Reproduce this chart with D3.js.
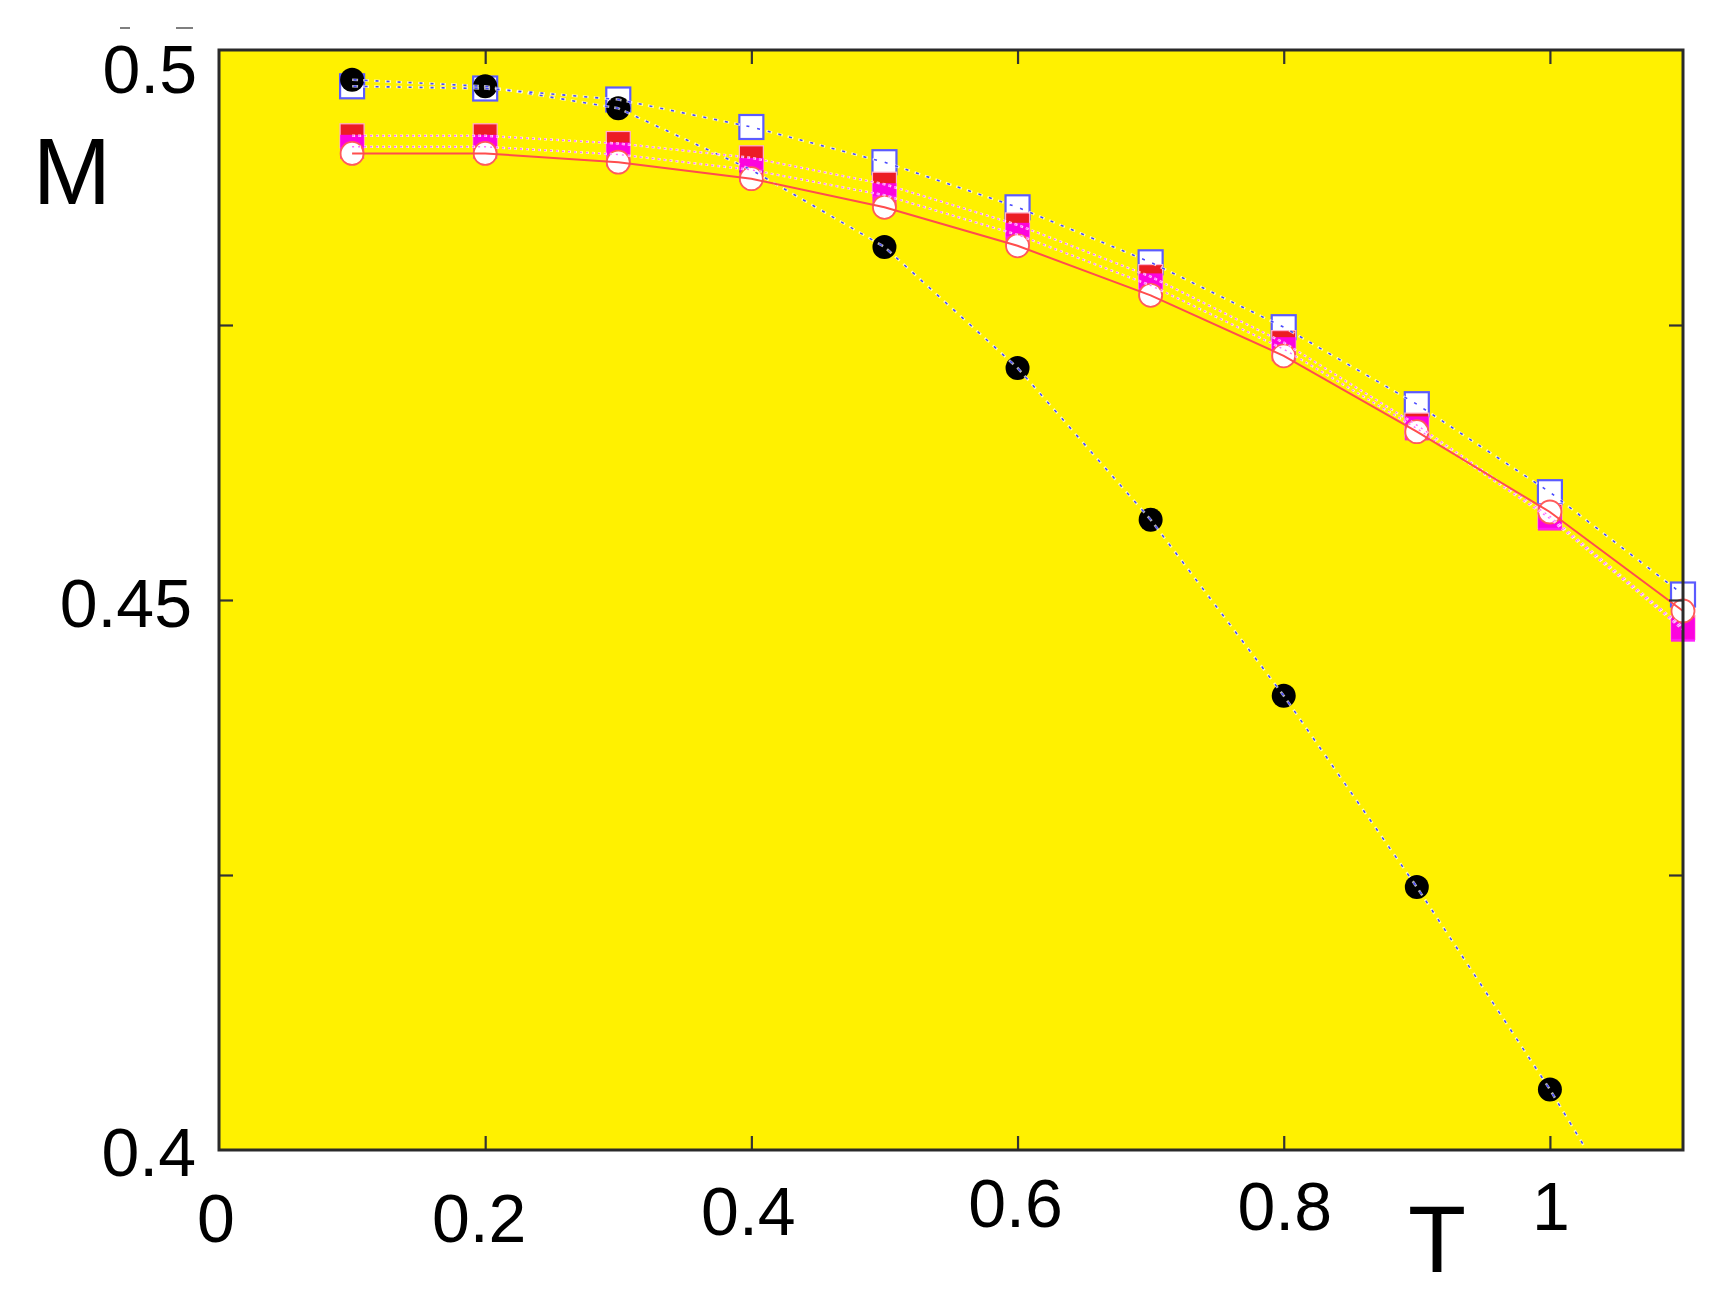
<!DOCTYPE html>
<html>
<head>
<meta charset="utf-8">
<script src="https://cdn.jsdelivr.net/npm/d3@7"></script>
<style>
  html, body { margin: 0; padding: 0; background: #ffffff; }
  svg { display: block; }
  text { font-family: "Liberation Sans", Arial, Helvetica, sans-serif; fill: #000; }
</style>
</head>
<body>
<svg id="chart" width="1735" height="1299"></svg>
<script>
// ---------------- data ----------------
const temps = [0.1, 0.2, 0.3, 0.4, 0.5, 0.6, 0.7, 0.8, 0.9, 1.0, 1.1];
const blackCircles   = [0.4973, 0.4967, 0.4947, 0.4891, 0.4821, 0.4711, 0.4573, 0.4413, 0.4239, 0.4055, 0.3855];
const openSquares    = [0.4967, 0.4965, 0.4955, 0.4930, 0.4898, 0.4857, 0.4807, 0.4748, 0.4678, 0.4598, 0.4505];
const redSquares     = [0.4922, 0.4922, 0.4915, 0.4902, 0.4878, 0.4841, 0.4794, 0.4734, 0.4659, 0.4576, 0.4475];
const magentaSquares = [0.4912, 0.4912, 0.4905, 0.4891, 0.4868, 0.4832, 0.4786, 0.4728, 0.4656, 0.4574, 0.4473];
const openCircles    = [0.4906, 0.4906, 0.4898, 0.4883, 0.4857, 0.4822, 0.4777, 0.4722, 0.4653, 0.4580, 0.4490];

const xTickValues = [0, 0.2, 0.4, 0.6, 0.8, 1];
const xTickLabels = ["0", "0.2", "0.4", "0.6", "0.8", "1"];
const yTickValues = [0.4, 0.425, 0.45, 0.475, 0.5];
const yLabelValues = [0.4, 0.45, 0.5];
const yTickLabels = ["0.4", "0.45", "0.5"];
const xTitle = "T";
const yTitle = "M";

// ---------------- layout ----------------
const svg = d3.select("#chart");
const L = 219, R = 1683, TOP = 50, BOT = 1150;
const x = d3.scaleLinear().domain([0, 1.1]).range([L, R]);
const y = d3.scaleLinear().domain([0.4, 0.5]).range([BOT, TOP]);

// background
svg.append("rect").attr("x", L).attr("y", TOP).attr("width", R - L).attr("height", BOT - TOP)
  .attr("fill", "#fff100");

// clip (vertical only; markers at T=1.1 spill past the right border)
svg.append("defs").append("clipPath").attr("id", "clip")
  .append("rect").attr("x", L).attr("y", TOP).attr("width", 1735 - L).attr("height", BOT - TOP);

const plot = svg.append("g").attr("clip-path", "url(#clip)");

const pts = vals => temps.map((t, i) => [t, vals[i]]);
const lineGen = d3.line().x(d => x(d[0])).y(d => y(d[1]));

// ---------------- markers ----------------
const sq = 24;
// open squares
plot.append("g").selectAll("rect").data(pts(openSquares)).join("rect")
  .attr("x", d => x(d[0]) - sq / 2).attr("y", d => y(d[1]) - sq / 2)
  .attr("width", sq).attr("height", sq)
  .attr("fill", "#ffffff").attr("stroke", "#5b5bff").attr("stroke-width", 2.2);
// black circles
plot.append("g").selectAll("circle").data(pts(blackCircles)).join("circle")
  .attr("cx", d => x(d[0])).attr("cy", d => y(d[1])).attr("r", 12)
  .attr("fill", "#000000");
// red squares
plot.append("g").selectAll("rect").data(pts(redSquares)).join("rect")
  .attr("x", d => x(d[0]) - sq / 2).attr("y", d => y(d[1]) - sq / 2)
  .attr("width", sq).attr("height", sq)
  .attr("fill", "#ec1c24").attr("stroke", "#ffb0d0").attr("stroke-width", 1.2);
// magenta squares
plot.append("g").selectAll("rect").data(pts(magentaSquares)).join("rect")
  .attr("x", d => x(d[0]) - sq / 2).attr("y", d => y(d[1]) - sq / 2)
  .attr("width", sq).attr("height", sq)
  .attr("fill", "#ff00ff").attr("opacity", 0.85);
// open circles
plot.append("g").selectAll("circle").data(pts(openCircles)).join("circle")
  .attr("cx", d => x(d[0])).attr("cy", d => y(d[1])).attr("r", 11.5)
  .attr("fill", "#ffffff").attr("stroke", "#ff5a5a").attr("stroke-width", 1.8);

// ---------------- lines ----------------
function dottedBlue(vals) {
  plot.append("path").datum(pts(vals)).attr("d", lineGen).attr("fill", "none")
    .attr("stroke", "#ffffff").attr("stroke-width", 2.6).attr("stroke-dasharray", "6,5").attr("opacity", 0.7);
  plot.append("path").datum(pts(vals)).attr("d", lineGen).attr("fill", "none")
    .attr("stroke", "#4848ff").attr("stroke-width", 1.6).attr("stroke-dasharray", "3,8")
    .attr("stroke-dashoffset", -1.5);
}
function dottedPink(vals) {
  plot.append("path").datum(pts(vals)).attr("d", lineGen).attr("fill", "none")
    .attr("stroke", "#ffffff").attr("stroke-width", 2.4).attr("stroke-dasharray", "3,3").attr("opacity", 0.8);
  plot.append("path").datum(pts(vals)).attr("d", lineGen).attr("fill", "none")
    .attr("stroke", "#ff6cff").attr("stroke-width", 1.4).attr("stroke-dasharray", "2,4");
}
dottedBlue(blackCircles);
dottedBlue(openSquares);
dottedPink(redSquares);
dottedPink(magentaSquares);
plot.append("path").datum(pts(openCircles)).attr("d", lineGen).attr("fill", "none")
  .attr("stroke", "#ff4d4d").attr("stroke-width", 2);

// ---------------- axes (inner ticks) ----------------
const tickStyle = g => {
  g.select(".domain").remove();
  g.selectAll("line").attr("stroke", "#333").attr("stroke-width", 2.2);
  g.selectAll("text").remove();
};
const xTicksInner = xTickValues.filter(v => v > 0);
svg.append("g").attr("transform", `translate(0,${BOT})`)
  .call(d3.axisBottom(x).tickValues(xTicksInner).tickSize(-14).tickFormat(""))
  .call(tickStyle);
svg.append("g").attr("transform", `translate(0,${TOP})`)
  .call(d3.axisTop(x).tickValues(xTicksInner).tickSize(-14).tickFormat(""))
  .call(tickStyle);
const yTicksInner = yTickValues.filter(v => v > 0.4 && v < 0.5);
svg.append("g").attr("transform", `translate(${L},0)`)
  .call(d3.axisLeft(y).tickValues(yTicksInner).tickSize(-14).tickFormat(""))
  .call(tickStyle);
svg.append("g").attr("transform", `translate(${R},0)`)
  .call(d3.axisRight(y).tickValues(yTicksInner).tickSize(-14).tickFormat(""))
  .call(tickStyle);

// frame
svg.append("rect").attr("x", L).attr("y", TOP).attr("width", R - L).attr("height", BOT - TOP)
  .attr("fill", "none").attr("stroke", "#2a2a2a").attr("stroke-width", 3);

// ---------------- tick labels ----------------
const xLabelShift = [[-3, 92], [-6, 92], [-3, 85], [-2, 77], [1, 80], [1, 80]];
svg.append("g").selectAll("text").data(xTickValues).join("text")
  .attr("x", (d, i) => x(d) + xLabelShift[i][0])
  .attr("y", (d, i) => BOT + xLabelShift[i][1])
  .attr("text-anchor", "middle").attr("font-size", 68)
  .text((d, i) => xTickLabels[i]);

const yLabelShift = [[-23, 26], [-27, 27], [-22, 43]];
svg.append("g").selectAll("text").data(yLabelValues).join("text")
  .attr("x", (d, i) => L + yLabelShift[i][0])
  .attr("y", (d, i) => y(d) + yLabelShift[i][1])
  .attr("text-anchor", "end").attr("font-size", 68)
  .text((d, i) => yTickLabels[i]);

// axis titles
svg.append("text").attr("x", 72).attr("y", 204).attr("text-anchor", "middle")
  .attr("font-size", 94).text(yTitle);
svg.append("text").attr("x", 1437).attr("y", 1272).attr("text-anchor", "middle")
  .attr("font-size", 95).text(xTitle);

// small stray marks above the "0.5" label
svg.append("line").attr("x1", 120).attr("x2", 130).attr("y1", 28).attr("y2", 28)
  .attr("stroke", "#555").attr("stroke-width", 1.5);
svg.append("line").attr("x1", 176).attr("x2", 193).attr("y1", 28).attr("y2", 28)
  .attr("stroke", "#555").attr("stroke-width", 1.5);
</script>
</body>
</html>
